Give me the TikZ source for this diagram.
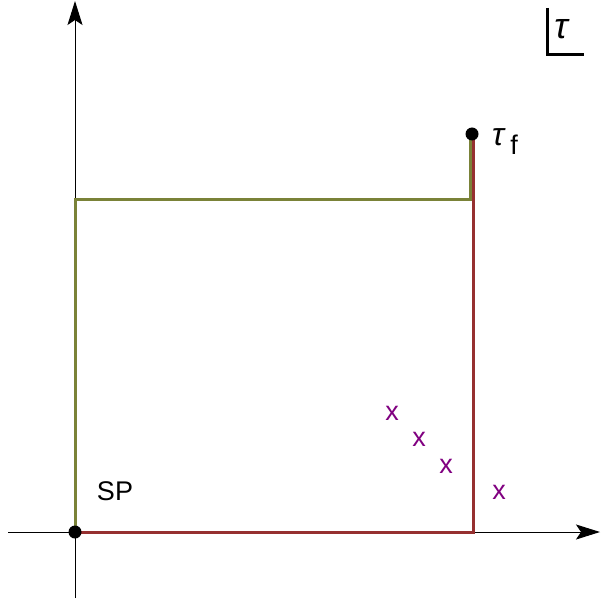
\documentclass[tikz,border=0pt]{standalone}
\usepackage{fontspec}
\setmainfont{Liberation Sans}
\usetikzlibrary{arrows.meta}
\definecolor{pathgreen}{RGB}{122,130,56}
\definecolor{pathred}{RGB}{150,48,48}
\definecolor{markpurple}{RGB}{128,0,128}
\begin{document}
\begin{tikzpicture}[x=1pt,y=-1pt,
  axis/.style={line width=1pt,-{Stealth[length=24pt,width=15pt,inset=5pt]}},
  route/.style={line width=3pt},
  dot/.style={circle,fill=black,inner sep=0pt,minimum size=13pt},
  lbl/.style={font=\fontsize{27}{30}\selectfont,inner sep=0pt},
  xm/.style={lbl,text=markpurple}]
\useasboundingbox (0,0) rectangle (601,601);
\coordinate (ybot) at (75,598);
\coordinate (ytop) at (75,1);
\coordinate (xleft) at (8,532);
\coordinate (xright) at (600,532);
\draw[axis] (ybot) -- (ytop);
\draw[axis] (xleft) -- (xright);
\coordinate (sp) at (75,532);
\coordinate (tf) at (472,134);
\coordinate (br) at (473.5,532);
\coordinate (brt) at (473.5,134);
\coordinate (gtl) at (75,200);
\coordinate (gtr) at (470.5,200);
\coordinate (gtf) at (470.5,134);
\draw[route,pathred] (sp) -- (br) -- (brt);
\draw[route,pathgreen] (sp) -- (gtl) -- (gtr) -- (gtf);
\node[dot] (spdot) at (sp) {};
\node[dot] (tfdot) at (tf) {};
\node[lbl] (splbl) at (115,491) {SP};
\node[lbl,anchor=west,font=\fontsize{32}{36}\selectfont] (tflbl) at (492,142) {\textit{τ}\raisebox{-9pt}{\fontsize{27}{30}\selectfont\,f}};
\node[xm] (x1) at (392,413) {x};
\node[xm] (x2) at (419,439) {x};
\node[xm] (x3) at (446,466) {x};
\node[xm] (x4) at (499,492) {x};
\node[lbl,font=\fontsize{36}{40}\selectfont] (tau) at (562,29) {\textit{τ}};
\coordinate (boxtop) at (547,8);
\coordinate (boxcorner) at (547,55);
\coordinate (boxright) at (584,55);
\draw[line width=3pt] (boxtop) -- (boxcorner) -- (boxright);
\end{tikzpicture}
\end{document}
